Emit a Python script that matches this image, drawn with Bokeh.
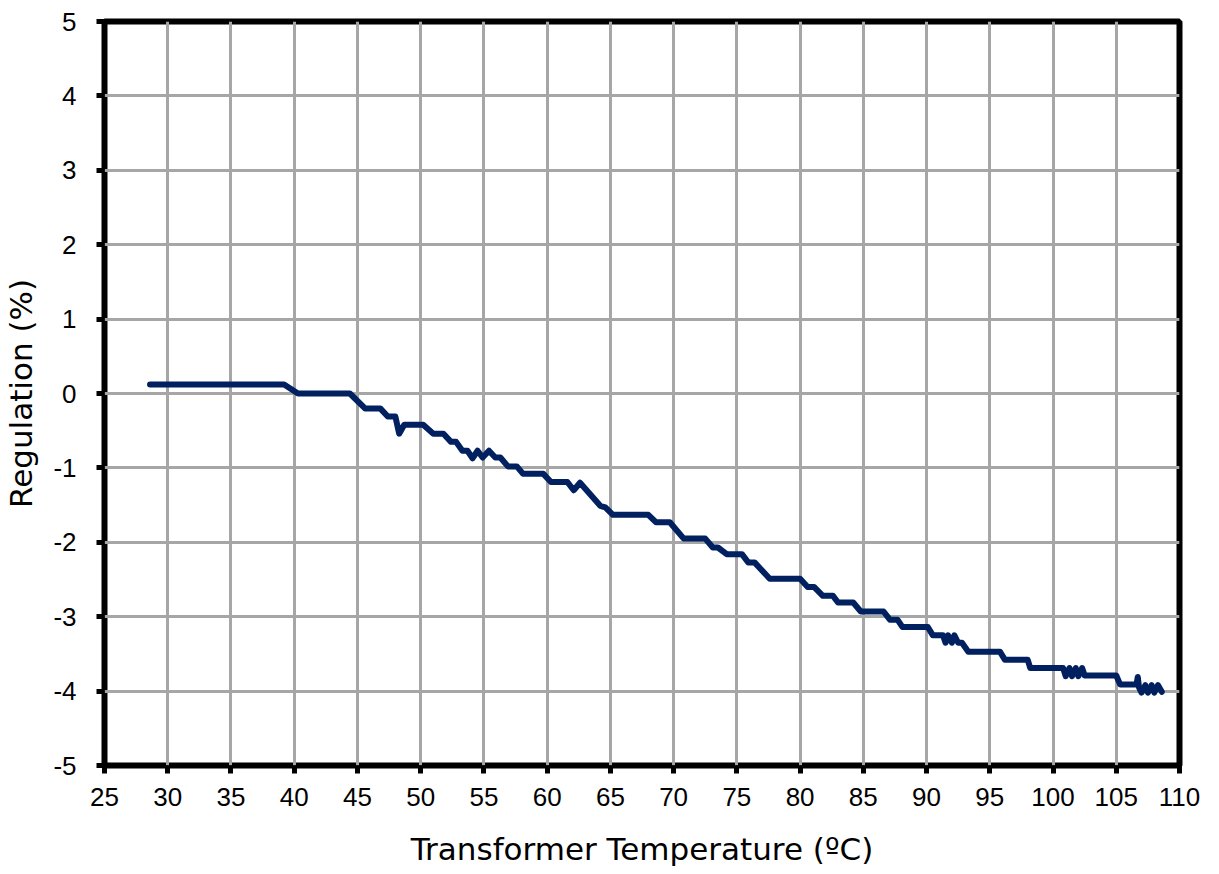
from bokeh.plotting import figure
from bokeh.models import Range1d, FixedTicker, CustomJSTickFormatter
from bokeh.embed import file_html
from bokeh.resources import INLINE

temperature = [28.6, 39.2, 40.3, 44.4, 45.6, 46.8, 47.4, 48.0, 48.3, 48.7, 50.2, 51.0, 51.8, 52.4, 52.8,
               53.3, 53.7, 54.1, 54.5, 54.9, 55.4, 55.9, 56.3, 56.9, 57.6, 58.1, 59.7, 60.3, 61.6, 62.1,
               62.6, 64.2, 64.6, 65.2, 68.0, 68.6, 69.7, 70.8, 72.5, 73.1, 73.5, 74.2, 75.4, 75.9, 76.4,
               77.6, 80.0, 80.6, 81.1, 81.8, 82.6, 83.0, 84.2, 84.8, 86.6, 87.1, 87.7, 88.1, 90.1, 90.5,
               91.3, 91.5, 91.7, 92.0, 92.2, 92.5, 92.8, 93.3, 95.8, 96.2, 98.0, 98.2, 100.8, 101.0, 101.3,
               101.5, 101.8, 102.0, 102.3, 102.5, 105.0, 105.3, 106.6, 106.7, 106.8, 107.0, 107.3, 107.5,
               107.8, 108.0, 108.3, 108.6]
regulation = [0.12, 0.12, 0.0, 0.0, -0.2, -0.2, -0.31, -0.31, -0.54, -0.42, -0.42, -0.54, -0.54, -0.65, -0.65,
              -0.77, -0.77, -0.87, -0.77, -0.86, -0.77, -0.86, -0.86, -0.98, -0.98, -1.08, -1.08, -1.19, -1.19, -1.30,
              -1.20, -1.51, -1.53, -1.63, -1.63, -1.73, -1.73, -1.95, -1.95, -2.07, -2.07, -2.16, -2.16, -2.27, -2.27,
              -2.49, -2.49, -2.60, -2.60, -2.72, -2.72, -2.81, -2.81, -2.93, -2.93, -3.04, -3.04, -3.14, -3.14, -3.25,
              -3.25, -3.35, -3.25, -3.35, -3.25, -3.35, -3.35, -3.47, -3.47, -3.58, -3.58, -3.69, -3.69, -3.80, -3.69,
              -3.80, -3.69, -3.80, -3.69, -3.79, -3.79, -3.91, -3.91, -3.81, -3.95, -4.02, -3.92, -4.02,
              -3.92, -4.02, -3.92, -4.01]

x_ticks = list(range(25, 111, 5))
y_ticks = list(range(-5, 6, 1))

TICK_FONT = "Liberation Sans"
TITLE_FONT = "DejaVu Sans"

p = figure(width=1210, height=874, output_backend="svg", toolbar_location=None,
           x_range=Range1d(25, 110), y_range=Range1d(-5, 5),
           min_border_left=104, min_border_right=31, min_border_top=21, min_border_bottom=109)
p.background_fill_color = "white"
p.border_fill_color = "white"
p.outline_line_color = "black"
p.outline_line_width = 6

p.line(temperature, regulation, line_color="#002060", line_width=6, line_join="round", line_cap="round")

fmt = CustomJSTickFormatter(code="return String(tick);")
for ax in (p.xaxis[0], p.yaxis[0]):
    ax.axis_line_color = None
    ax.major_tick_line_color = "black"
    ax.major_tick_line_width = 5
    ax.major_tick_out = 8
    ax.major_tick_in = 0
    ax.minor_tick_line_color = None
    ax.major_label_text_font = TICK_FONT
    ax.major_label_text_font_size = "26px"
    ax.major_label_text_color = "black"
    ax.axis_label_text_font = TITLE_FONT
    ax.axis_label_text_font_size = "31px"
    ax.axis_label_text_font_style = "normal"
    ax.axis_label_text_color = "black"
    ax.formatter = fmt

p.xaxis[0].ticker = FixedTicker(ticks=x_ticks)
p.yaxis[0].ticker = FixedTicker(ticks=y_ticks)
p.xaxis[0].major_label_standoff = 14
p.yaxis[0].major_label_standoff = 20
p.xaxis[0].axis_label = "Transformer Temperature (ºC)"
p.yaxis[0].axis_label = "Regulation (%)"
p.xaxis[0].axis_label_standoff = 22
p.yaxis[0].axis_label_standoff = 11

p.xgrid.ticker = FixedTicker(ticks=x_ticks)
p.ygrid.ticker = FixedTicker(ticks=y_ticks)
for g in (p.xgrid[0], p.ygrid[0]):
    g.grid_line_color = "#A6A6A6"
    g.grid_line_width = 3

open("out.html", "w").write(file_html(p, INLINE))
